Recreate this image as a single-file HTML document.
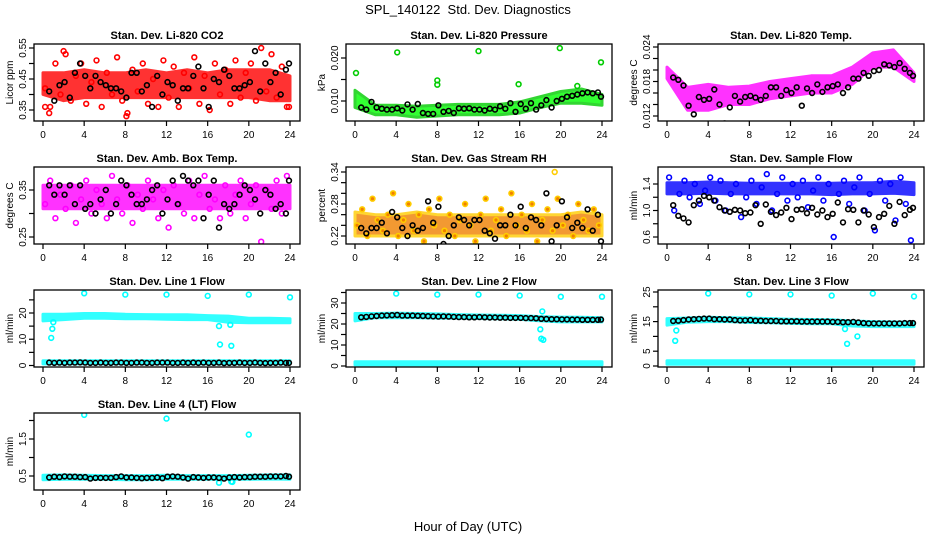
<!DOCTYPE html>
<html><head><meta charset="utf-8"><style>
body{margin:0;background:#fff}
svg{display:block;font-family:"Liberation Sans",Arial,sans-serif}
</style></head><body>
<svg id="c" width="936" height="540" viewBox="0 0 936 540">
<text x="468" y="14" text-anchor="middle" font-size="13" style="white-space:pre">SPL_140122  Std. Dev. Diagnostics</text>
<text x="468" y="531" text-anchor="middle" font-size="13">Hour of Day (UTC)</text>
</svg>
<script>
const blackHours=[0.6,1.1,1.6,2.1,2.6,3.1,3.6,4.1,4.6,5.1,5.6,6.1,6.6,7.1,7.6,8.1,8.6,9.1,9.6,10.1,10.6,11.1,11.6,12.1,12.6,13.1,13.6,14.1,14.6,15.1,15.6,16.1,16.6,17.1,17.6,18.1,18.6,19.1,19.6,20.1,20.6,21.1,21.6,22.1,22.6,23.1,23.6,23.9];
const colHours=[0.2,0.7,1.2,1.7,2.2,2.7,3.2,3.7,4.2,4.7,5.2,5.7,6.2,6.7,7.2,7.7,8.2,8.7,9.2,9.7,10.2,10.7,11.2,11.7,12.2,12.7,13.2,13.7,14.2,14.7,15.2,15.7,16.2,16.7,17.2,17.7,18.2,18.7,19.2,19.7,20.2,20.7,21.2,21.7,22.2,22.7,23.2,23.7];
const bandHours=[0,2,4,6,8,10,12,14,16,18,20,22,24];
const xTicks=[0,4,8,12,16,20,24];

const co2Lo=[0.40,0.38,0.39,0.39,0.39,0.39,0.39,0.39,0.39,0.39,0.39,0.38,0.38];
const co2Hi=[0.47,0.47,0.48,0.47,0.47,0.48,0.47,0.48,0.47,0.48,0.48,0.48,0.46];
const co2Col=[0.42,0.36,0.50,0.40,0.53,0.38,0.46,0.50,0.37,0.44,0.51,0.36,0.47,0.40,0.52,0.38,0.34,0.48,0.41,0.50,0.37,0.45,0.36,0.51,0.39,0.49,0.36,0.47,0.42,0.52,0.37,0.46,0.35,0.50,0.40,0.48,0.37,0.51,0.39,0.47,0.50,0.38,0.55,0.41,0.53,0.39,0.49,0.36];
const co2Black=[0.41,0.38,0.43,0.44,0.39,0.47,0.50,0.46,0.42,0.46,0.44,0.43,0.42,0.42,0.41,0.39,0.47,0.47,0.41,0.43,0.36,0.46,0.40,0.44,0.43,0.38,0.42,0.42,0.46,0.49,0.42,0.36,0.45,0.44,0.48,0.46,0.42,0.42,0.43,0.44,0.54,0.41,0.50,0.44,0.47,0.40,0.48,0.50];
const co2OutX=[8.1,2.0,0.6,0.2,23.9];
const co2OutY=[0.33,0.54,0.34,0.36,0.36];

const presLo=[0.0085,0.0068,0.0068,0.0062,0.0065,0.0068,0.0068,0.0068,0.0072,0.0085,0.0095,0.0095,0.0090];
const presHi=[0.0125,0.0090,0.0090,0.0088,0.0090,0.0092,0.0092,0.0092,0.0098,0.0110,0.0122,0.0128,0.0115];
const presBlack=[0.0085,0.0080,0.0098,0.0085,0.0082,0.0080,0.0080,0.0083,0.0078,0.0092,0.0080,0.0093,0.0072,0.0070,0.0070,0.0090,0.0075,0.0077,0.0072,0.0083,0.0082,0.0083,0.0080,0.0080,0.0078,0.0082,0.0080,0.0088,0.0082,0.0095,0.0075,0.0093,0.0082,0.0095,0.0080,0.0090,0.0102,0.0085,0.0100,0.0105,0.0110,0.0112,0.0115,0.0118,0.0120,0.0118,0.0120,0.0110];
const presOutX=[0.1,4.1,8.0,8.0,12.0,15.9,19.9,23.9,21.6];
const presOutY=[0.0165,0.0213,0.0148,0.0138,0.0216,0.0139,0.0223,0.0190,0.0135];

const tempLo=[0.0185,0.0130,0.0130,0.0140,0.0140,0.0150,0.0155,0.0160,0.0160,0.0175,0.0205,0.0205,0.0180];
const tempHi=[0.0205,0.0170,0.0175,0.0170,0.0172,0.0180,0.0185,0.0190,0.0190,0.0205,0.0230,0.0235,0.0195];
const tempBlack=[0.0187,0.0183,0.0173,0.0138,0.0123,0.0153,0.0148,0.0150,0.0166,0.0140,0.0107,0.0135,0.0155,0.0145,0.0153,0.0155,0.0152,0.0148,0.0155,0.0170,0.0170,0.0155,0.0165,0.0160,0.0170,0.0138,0.0168,0.0160,0.0175,0.0162,0.0170,0.0172,0.0175,0.0160,0.0170,0.0185,0.0185,0.0195,0.0190,0.0198,0.0200,0.0210,0.0208,0.0205,0.0212,0.0202,0.0195,0.0190];

const ambLo=[0.31,0.31,0.31,0.31,0.31,0.31,0.31,0.31,0.31,0.31,0.31,0.31,0.31];
const ambHi=[0.36,0.36,0.36,0.36,0.36,0.36,0.36,0.36,0.36,0.36,0.36,0.36,0.36];
const ambCol=[0.32,0.37,0.29,0.34,0.31,0.36,0.28,0.33,0.37,0.30,0.35,0.32,0.29,0.38,0.33,0.30,0.36,0.28,0.34,0.31,0.37,0.33,0.29,0.35,0.27,0.36,0.32,0.30,0.37,0.29,0.34,0.38,0.31,0.33,0.29,0.36,0.30,0.34,0.37,0.29,0.32,0.36,0.24,0.35,0.31,0.37,0.30,0.38];
const ambBlack=[0.36,0.34,0.36,0.34,0.36,0.32,0.36,0.31,0.32,0.30,0.33,0.35,0.30,0.32,0.37,0.36,0.34,0.32,0.32,0.33,0.35,0.36,0.30,0.33,0.37,0.32,0.38,0.37,0.36,0.37,0.29,0.34,0.37,0.27,0.32,0.31,0.32,0.34,0.36,0.35,0.33,0.30,0.35,0.34,0.31,0.32,0.30,0.37];

const rhLo=[0.22,0.22,0.22,0.22,0.22,0.22,0.22,0.22,0.22,0.22,0.22,0.22,0.22];
const rhHi=[0.265,0.26,0.26,0.265,0.26,0.26,0.26,0.26,0.26,0.26,0.26,0.265,0.26];
const rhCol=[0.24,0.27,0.22,0.29,0.25,0.23,0.26,0.30,0.22,0.25,0.28,0.23,0.26,0.21,0.27,0.24,0.29,0.23,0.26,0.22,0.25,0.28,0.24,0.21,0.26,0.29,0.23,0.25,0.27,0.22,0.30,0.24,0.26,0.23,0.28,0.21,0.25,0.27,0.23,0.29,0.24,0.26,0.22,0.28,0.25,0.23,0.27,0.24];
const rhBlack=[0.235,0.225,0.235,0.235,0.245,0.225,0.265,0.255,0.235,0.22,0.24,0.23,0.235,0.285,0.245,0.275,0.205,0.22,0.24,0.255,0.25,0.24,0.25,0.25,0.23,0.225,0.215,0.24,0.24,0.26,0.24,0.275,0.235,0.255,0.25,0.24,0.30,0.21,0.24,0.285,0.255,0.235,0.245,0.235,0.27,0.23,0.26,0.21];
const rhOutX=[19.4];
const rhOutY=[0.34];

const flowLo=[1.25,1.25,1.26,1.25,1.25,1.25,1.25,1.25,1.24,1.25,1.25,1.26,1.24];
const flowHi=[1.42,1.42,1.43,1.42,1.41,1.41,1.41,1.41,1.41,1.42,1.42,1.44,1.42];
const flowCol=[1.50,1.00,1.25,1.45,1.20,1.40,1.10,1.30,1.50,1.15,1.45,1.00,1.25,1.40,0.90,1.20,1.45,1.10,1.35,1.55,1.00,1.25,1.50,1.15,1.40,1.20,1.45,1.05,1.30,1.50,1.15,1.40,0.60,1.25,1.45,1.10,1.35,1.50,1.00,1.25,0.70,1.45,1.15,1.40,0.85,1.50,1.10,0.55];
const flowBlack=[1.08,0.92,0.88,0.82,1.08,1.15,1.22,1.20,1.15,1.05,1.00,0.98,1.01,1.00,0.96,0.97,1.08,0.80,1.09,0.98,0.93,0.97,1.04,0.87,1.01,1.02,0.96,1.04,0.94,1.00,0.90,0.95,1.12,0.82,1.02,1.01,0.82,1.00,0.94,0.75,0.90,0.95,1.07,0.80,1.13,0.93,1.01,1.04];

const l1Lo=[17,17.5,18,18,17.8,17.8,17.6,17.5,17.5,16.5,16.3,16.3,16.3];
const l1Hi=[19.5,19.5,19.8,19.8,19.5,19.4,19.3,19.3,19,18.8,18,18,17.8];
const l1BaseLo=[0.6,0.6,0.6,0.6,0.6,0.6,0.6,0.6,0.6,0.6,0.6,0.6,0.6];
const l1BaseHi=[1.8,1.8,1.8,1.8,1.8,1.8,1.8,1.8,1.8,1.8,1.8,1.8,1.8];
const l1Black=[1.1,1.0,1.1,1.0,1.1,1.1,1.2,1.1,1.0,1.0,1.1,1.0,1.0,1.1,1.1,1.0,1.0,1.1,1.1,1.0,1.0,1.1,1.1,1.1,1.0,1.0,1.1,1.0,1.1,1.0,1.1,1.0,1.0,1.1,0.9,1.0,1.0,1.1,1.0,1.0,1.1,1.0,0.9,1.0,1.0,1.1,1.0,1.0];
const l1OutX=[4,8,12,16,20,24,0.8,0.9,1.0,17.1,17.2,18.3,18.2];
const l1OutY=[27.5,27,27,26.5,27,26,10.5,14,16.5,15,8,7.5,15.5];

const l2Lo=[21.5,23,23,23,22.8,22.8,22.6,22.5,22.3,21.5,21,21,21];
const l2Hi=[25,25,25.2,25,24.8,24.5,24.3,24.2,24,23.5,23.3,23.2,23];
const l2BaseLo=[0.5,0.5,0.5,0.5,0.5,0.5,0.5,0.5,0.5,0.5,0.5,0.5,0.5];
const l2BaseHi=[2,2,2,2,2,2,2,2,2,2,2,2,2];
const l2Black=[23.2,23.4,23.6,23.8,24.0,24.1,24.2,24.3,24.0,24.0,24.0,23.9,23.8,23.7,23.6,23.5,23.6,23.5,23.4,23.3,23.3,23.2,23.2,23.3,23.2,23.1,23.1,23.0,23.0,22.9,22.9,22.9,22.8,22.8,22.7,22.5,22.4,22.3,22.3,22.2,22.2,22.1,22.1,22.0,22.0,22.0,22.0,22.1];
const l2OutX=[4,8,12,16,20,24,18.2,18.0,18.1,18.3];
const l2OutY=[34.5,34,34,33.5,33,33,26,17.5,13,12.5];

const l3Lo=[13.8,14.8,15,15,14.7,14.6,14.4,14.3,14.3,13.5,13.3,13.3,13.3];
const l3Hi=[16,16.2,16.5,16.3,16.2,16,15.8,15.7,15.6,15.2,15,14.9,14.8];
const l3BaseLo=[0.6,0.6,0.6,0.6,0.6,0.6,0.6,0.6,0.6,0.6,0.6,0.6,0.6];
const l3BaseHi=[1.8,1.8,1.8,1.8,1.8,1.8,1.8,1.8,1.8,1.8,1.8,1.8,1.8];
const l3Black=[15.2,15.3,15.5,15.7,15.8,15.9,16.0,16.0,15.8,15.8,15.7,15.7,15.5,15.4,15.4,15.5,15.3,15.3,15.2,15.2,15.2,15.1,15.1,15.1,15.1,15.0,15.0,15.0,15.0,15.0,15.0,14.9,14.9,14.8,14.8,14.9,14.7,14.5,14.4,14.4,14.4,14.4,14.4,14.4,14.4,14.5,14.5,14.5];
const l3OutX=[4,8,12,16,20,24,0.8,0.9,17.3,17.5,18.5];
const l3OutY=[24.5,24.2,24.2,23.8,24.5,23.5,8.5,12,12.5,7.5,10];

const l4Lo=[0.40,0.41,0.41,0.41,0.40,0.40,0.41,0.41,0.41,0.41,0.41,0.42,0.41];
const l4Hi=[0.52,0.53,0.52,0.51,0.51,0.51,0.52,0.51,0.51,0.51,0.52,0.53,0.53];
const l4Black=[0.46,0.48,0.47,0.49,0.48,0.48,0.47,0.47,0.43,0.45,0.45,0.45,0.45,0.47,0.49,0.46,0.46,0.45,0.44,0.45,0.45,0.46,0.44,0.48,0.49,0.48,0.46,0.43,0.47,0.46,0.45,0.46,0.46,0.45,0.43,0.46,0.47,0.46,0.47,0.47,0.48,0.48,0.48,0.49,0.49,0.49,0.50,0.48];
const l4OutX=[4,12,20,17.1,18.3,18.4];
const l4OutY=[2.15,2.05,1.62,0.32,0.35,0.34];

const panels=[
{id:'co2',col:0,row:0,title:'Stan. Dev. Li-820 CO2',ylab:'Licor ppm',v:[0.35,0.55],p:[110,48],ticks:[0.35,0.40,0.45,0.50,0.55],labels:['0.35','0.45','0.55'],color:'#ff0000',fill:'none',bands:[[co2Lo,co2Hi]],col_:co2Col,black:co2Black,ox:co2OutX,oy:co2OutY},
{id:'pressure',col:1,row:0,title:'Stan. Dev. Li-820 Pressure',ylab:'kPa',v:[0.010,0.020],p:[101,58],ticks:[0.010,0.015,0.020],labels:['0.010','0.020'],color:'#00cc00',fill:'#00ff00',bands:[[presLo,presHi]],col_:null,black:presBlack,ox:presOutX,oy:presOutY},
{id:'temp',col:2,row:0,title:'Stan. Dev. Li-820 Temp.',ylab:'degrees C',v:[0.012,0.024],p:[116,47],ticks:[0.012,0.014,0.016,0.018,0.020,0.022,0.024],labels:['0.012','0.018','0.024'],color:'#ff00ff',fill:'none',bands:[[tempLo,tempHi]],col_:null,black:tempBlack,ox:[],oy:[]},
{id:'amb',col:0,row:1,title:'Stan. Dev. Amb. Box Temp.',ylab:'degrees C',v:[0.25,0.35],p:[237,190],ticks:[0.25,0.30,0.35],labels:['0.25','0.35'],color:'#ff00ff',fill:'none',bands:[[ambLo,ambHi]],col_:ambCol,black:ambBlack,ox:[],oy:[]},
{id:'rh',col:1,row:1,title:'Stan. Dev. Gas Stream RH',ylab:'percent',v:[0.22,0.34],p:[236,172],ticks:[0.22,0.24,0.26,0.28,0.30,0.32,0.34],labels:['0.22','0.28','0.34'],color:'#ffcc00',fill:'#f08000',bands:[[rhLo,rhHi]],col_:rhCol,black:rhBlack,ox:rhOutX,oy:rhOutY},
{id:'sampleflow',col:2,row:1,title:'Stan. Dev. Sample Flow',ylab:'ml/min',v:[0.6,1.4],p:[237,184],ticks:[0.6,0.8,1.0,1.2,1.4],labels:['0.6','1.0','1.4'],color:'#0000ff',fill:'none',bands:[[flowLo,flowHi]],col_:flowCol,black:flowBlack,ox:[],oy:[]},
{id:'line1',col:0,row:2,title:'Stan. Dev. Line 1 Flow',ylab:'ml/min',v:[0,20],p:[365.5,313],ticks:[0,5,10,15,20,25],labels:['0','10','20'],color:'#00ffff',fill:'none',bands:[[l1Lo,l1Hi],[l1BaseLo,l1BaseHi]],col_:null,black:l1Black,ox:l1OutX,oy:l1OutY},
{id:'line2',col:1,row:2,title:'Stan. Dev. Line 2 Flow',ylab:'ml/min',v:[0,30],p:[366,303],ticks:[0,5,10,15,20,25,30,35],labels:['0','10','20','30'],color:'#00ffff',fill:'none',bands:[[l2Lo,l2Hi],[l2BaseLo,l2BaseHi]],col_:null,black:l2Black,ox:l2OutX,oy:l2OutY},
{id:'line3',col:2,row:2,title:'Stan. Dev. Line 3 Flow',ylab:'ml/min',v:[0,25],p:[366,292],ticks:[0,5,10,15,20,25],labels:['0','5','15','25'],color:'#00ffff',fill:'none',bands:[[l3Lo,l3Hi],[l3BaseLo,l3BaseHi]],col_:null,black:l3Black,ox:l3OutX,oy:l3OutY},
{id:'line4',col:0,row:3,title:'Stan. Dev. Line 4 (LT) Flow',ylab:'ml/min',v:[0.5,1.5],p:[476,439],ticks:[0.5,1.0,1.5,2.0],labels:['0.5','1.5'],color:'#00ffff',fill:'none',bands:[[l4Lo,l4Hi]],col_:null,black:l4Black,ox:l4OutX,oy:l4OutY}
];

const svg=document.getElementById('c');
const NS='http://www.w3.org/2000/svg';
function mk(tag,attrs,parent){const e=document.createElementNS(NS,tag);for(const k in attrs)e.setAttribute(k,attrs[k]);(parent||svg).appendChild(e);return e;}

panels.forEach(pn=>{
  const x0=43+312*pn.col, boxL=x0-9, boxR=x0+257;
  const top=44+123*pn.row, bot=top+77;
  const xs=h=>x0+h*247/24;
  const ys=v=>pn.p[0]+(v-pn.v[0])*(pn.p[1]-pn.p[0])/(pn.v[1]-pn.v[0]);
  const g=mk('g',{});
  
  
  const cp=mk('clipPath',{id:'cp-'+pn.id},g);
  mk('rect',{x:boxL,y:top,width:boxR-boxL,height:bot-top},cp);
  const t=mk('text',{x:(boxL+boxR)/2,y:top-5,'text-anchor':'middle','font-size':'11','font-weight':'bold'},g);
  t.textContent=pn.title;
  
  
  const yl=mk('text',{x:0,y:0,'text-anchor':'middle','font-size':'10',transform:`translate(${boxL-21},${(top+bot)/2}) rotate(-90)`},g);
  yl.textContent=pn.ylab;
  
  
  const plot=mk('g',{'clip-path':`url(#cp-${pn.id})`},g);
  
  
  pn.bands.forEach(b=>{
    let d='';
    bandHours.forEach((h,i)=>{d+=(i?'L':'M')+xs(h).toFixed(1)+','+ys(b[1][i]).toFixed(1);});
    for(let i=bandHours.length-1;i>=0;i--)d+='L'+xs(bandHours[i]).toFixed(1)+','+ys(b[0][i]).toFixed(1);
    const band=mk('path',{d:d+'Z',fill:pn.fill!=='none'?pn.fill:pn.color,stroke:pn.color,'stroke-width':3,'stroke-linejoin':'round',opacity:0.8},plot);
    
    
  });
  const pt=(x,y,c,f)=>mk('circle',{cx:xs(x).toFixed(1),cy:ys(y).toFixed(1),r:2.4,fill:f,stroke:c,'stroke-width':1.6},plot);
  if(pn.col_){pn.col_.forEach((v,i)=>{const e=pt(colHours[i],v,pn.color,pn.fill);
    
    });}
  pn.ox.forEach((x,i)=>{const e=pt(x,pn.oy[i],pn.color,'none');
    
    });
  pn.black.forEach((v,i)=>{const e=pt(blackHours[i],v,'#000','none');
    
    });
  const box=mk('rect',{x:boxL,y:top,width:boxR-boxL,height:bot-top,fill:'none',stroke:'#000','stroke-width':1.3},g);
  
  
  xTicks.forEach(h=>{
    mk('line',{x1:xs(h),x2:xs(h),y1:bot,y2:bot+5,stroke:'#000','stroke-width':1.2},g);
    const tl=mk('text',{x:xs(h),y:bot+17,'text-anchor':'middle','font-size':'10'},g);
    tl.textContent=h;
    
    
  });
  pn.ticks.forEach(v=>{const y=ys(v);if(y<top-1||y>bot+1)return;
    mk('line',{x1:boxL-5,x2:boxL,y1:y,y2:y,stroke:'#000','stroke-width':1.2},g);});
  pn.labels.forEach(s=>{const y=ys(parseFloat(s));
    const tl=mk('text',{x:0,y:0,'text-anchor':'middle','font-size':'10',transform:`translate(${boxL-8},${y}) rotate(-90)`},g);
    tl.textContent=s;
    
    
  });
});
</script>
</body></html>
